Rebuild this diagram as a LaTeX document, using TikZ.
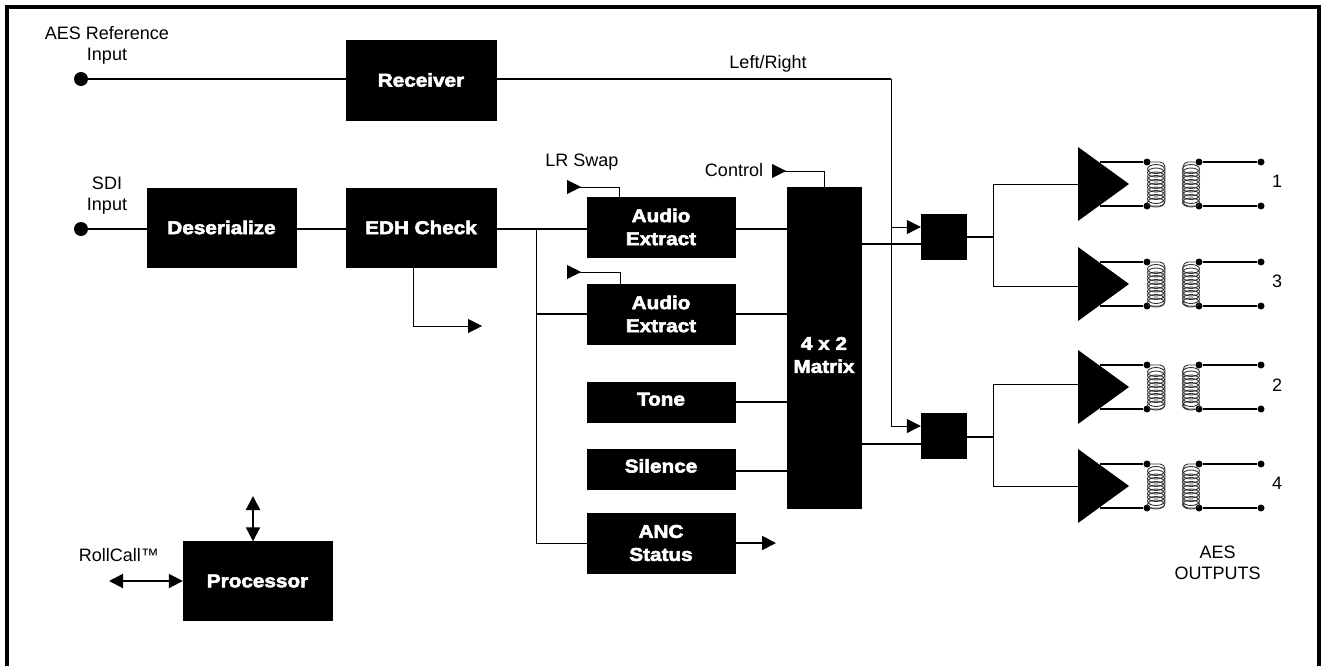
\documentclass[tikz,border=0pt]{standalone}
\usepackage{fontspec}
\usepackage{tikz}
\setmainfont{Liberation Sans}
\newfontfamily\boxfont[FakeBold=3,FakeStretch=1.12]{Liberation Sans Bold}
\usetikzlibrary{arrows.meta}
\tikzset{
  blockbox/.style 2 args={fill=black,draw=black,inner sep=0pt,text=white,align=center,
    minimum width=#1pt,minimum height=#2pt,font=\boxfont\fontsize{18.5}{23}\selectfont},
  lifted/.style={text height=14pt,text depth=7pt},
  lbl/.style={inner sep=0pt,align=center,font=\fontsize{18}{21}\selectfont},
  wire/.style={line width=1.8pt},
  thinwire/.style={line width=1pt},
  dotnode/.style={circle,fill=black,inner sep=0pt,minimum size=7pt},
  bigdot/.style={circle,fill=black,inner sep=0pt,minimum size=14pt},
  arr/.style={-{Triangle[length=14pt,width=14pt]}},
  arrin/.style={-{Triangle[length=14pt,width=14pt,reversed]}},
  biarr/.style={{Triangle[length=14pt,width=14pt]}-{Triangle[length=14pt,width=14pt]},line width=2pt},
  coilwire/.style={line width=0.9pt,black!80}
}
\newcommand{\ampstage}[2]{%
  \fill (1078,#2-37) -- (1129,#2) -- (1078,#2+37) -- cycle;
  \node[dotnode] (#1p) at (1147,#2-22) {};
  \node[dotnode] (#1q) at (1147,#2+22) {};
  \node[dotnode] (#1r) at (1199,#2-22) {};
  \node[dotnode] (#1s) at (1199,#2+22) {};
  \node[dotnode] (#1t) at (1261,#2-22) {};
  \node[dotnode] (#1u) at (1261,#2+22) {};
  \draw[wire] (1100,#2-22) -- (#1p);
  \draw[wire] (1100,#2+22) -- (#1q);
  \draw[wire] (#1r) -- (#1t);
  \draw[wire] (#1s) -- (#1u);
  \foreach \k in {-15,-7.5,0,7.5,15} {
    \draw[coilwire] (1156,#2+\k) ellipse (8.5 and 4.5);
    \draw[coilwire] (1156,#2+\k+3.5) ellipse (8.5 and 4.5);
    \draw[coilwire] (1191,#2+\k) ellipse (8.5 and 4.5);
    \draw[coilwire] (1191,#2+\k+3.5) ellipse (8.5 and 4.5);
  }
  \draw[coilwire] (#1p) -- (1160,#2-22) to[out=0,in=90] (1165,#2-17) -- (1165,#2+17) to[out=-90,in=0] (1160,#2+22) -- (#1q);
  \draw[coilwire] (#1r) -- (1188,#2-22) to[out=180,in=90] (1183,#2-17) -- (1183,#2+17) to[out=-90,in=180] (1188,#2+22) -- (#1s);
}
\begin{document}
\begin{tikzpicture}[x=1pt,y=-1pt]
  \useasboundingbox (0,0) rectangle (1324,666);
  \draw[line width=4pt] (7,672) -- (7,7) -- (1319,7) -- (1319,672);

  \node[bigdot] (aesin) at (81,79) {};
  \node[bigdot] (sdiin) at (81,229) {};
  \node[lbl] (aeslbl) at (107,45.5) {AES Reference\\Input};
  \node[lbl] (sdilbl) at (107,196) {SDI\\Input};

  \node[blockbox={150}{80}] (receiver) at (421,80) {Receiver};
  \node[blockbox={149}{79}] (deser) at (221.5,227.5) {Deserialize};
  \node[blockbox={150}{79}] (edh) at (421,227.5) {EDH Check};
  \node[blockbox={148}{60}] (ext1) at (661,227) {Audio\\Extract};
  \node[blockbox={148}{60}] (ext2) at (661,314) {Audio\\Extract};
  \node[blockbox={148}{40},lifted] (tone) at (661,402) {Tone};
  \node[blockbox={148}{40},lifted] (silence) at (661,469) {Silence};
  \node[blockbox={148}{60}] (anc) at (661,543) {ANC\\Status};
  \node[blockbox={74}{321}] (matrix) at (824,347.5) {};
  \node[blockbox={74}{50}] (matrixlbl) at (824,355) {4 x 2\\Matrix};
  \node[blockbox={149}{79}] (proc) at (257.5,581) {Processor};
  \node[blockbox={45}{45}] (sw1) at (943.5,236.5) {};
  \node[blockbox={45}{45}] (sw2) at (943.5,435.5) {};

  \draw[wire] (aesin) -- (aesin-|receiver.west);
  \draw[wire] (sdiin) -- (sdiin-|deser.west);
  \draw[wire] (deser.east|-sdiin) -- (edh.west|-sdiin);
  \draw[wire] (edh.east|-sdiin) -- (ext1.west|-sdiin);
  \draw[wire] (ext1.east|-sdiin) -- (matrix.west|-sdiin);
  \draw[wire] (ext2) -- (ext2-|matrix.west);
  \draw[wire] (tone) -- (tone-|matrix.west);
  \coordinate (silout) at (736,471);
  \draw[wire] (silout) -- (silout-|matrix.west);

  % tap lines off the EDH output
  \coordinate (tap) at (536,229);
  \draw[thinwire] (tap) |- (anc);
  \draw[wire] (tap|-ext2) -- (ext2);

  % swap and control inputs
  \coordinate (swapa) at (567,187);
  \coordinate (swapb) at (567,272);
  \coordinate (ctrl) at (772,171);
  \draw[thinwire,arrin] (619,197) |- (swapa);
  \draw[thinwire,arrin] (620,284) |- (swapb);
  \draw[thinwire,arrin] (matrix.north) |- (ctrl);
  \node[lbl] (swaplbl) at (582,162) {LR Swap};
  \node[lbl] (ctrllbl) at (734,170) {Control};

  % edh output
  \coordinate (edhout) at (482,326);
  \draw[thinwire,arr] (413,267) |- (edhout);

  % anc output
  \coordinate (ancout) at (776,543);
  \draw[wire,arr] (anc) -- (ancout);

  % left/right path
  \node[lbl] (lrlbl) at (768,64) {Left/Right};
  \coordinate (lrturn) at (891,79);
  \coordinate (lrtap) at (891,227);
  \draw[wire] (lrturn-|receiver.east) -- (lrturn);
  \draw[thinwire,arr] (lrturn) |- (sw1.west|-lrtap);
  \coordinate (lrlow) at (891,426);
  \draw[thinwire,arr] (lrtap) |- (sw2.west|-lrlow);
  \coordinate (mat1) at (861,244);
  \coordinate (mat2) at (861,444);
  \draw[wire] (mat1) -- (sw1.west|-mat1);
  \draw[wire] (mat2) -- (sw2.west|-mat2);

  % output stages
  \ampstage{a1}{184}
  \ampstage{a3}{284}
  \ampstage{a2}{387}
  \ampstage{a4}{486}
  \node[lbl] (n1) at (1277,181) {1};
  \node[lbl] (n3) at (1277,281) {3};
  \node[lbl] (n2) at (1277,385) {2};
  \node[lbl] (n4) at (1277,483) {4};
  \node[lbl] (aesout) at (1217.5,563) {AES\\OUTPUTS};

  \coordinate (trunk1) at (993,237);
  \coordinate (trunk2) at (993,437);
  \coordinate (a1in) at (1078,184);
  \coordinate (a3in) at (1078,286);
  \coordinate (a2in) at (1078,384);
  \coordinate (a4in) at (1078,486);
  \draw[wire] (sw1.east|-trunk1) -- (trunk1);
  \draw[wire] (sw2.east|-trunk2) -- (trunk2);
  \draw[thinwire] (a1in) -| (trunk1) |- (a3in);
  \draw[thinwire] (a2in) -| (trunk2) |- (a4in);

  % processor
  \node[lbl] (rolllbl) at (119,555) {RollCall™};
  \coordinate (rollend) at (109,581);
  \coordinate (busend) at (253,496);
  \draw[biarr] (rollend) -- (proc.west);
  \draw[biarr] (busend) -- (busend|-proc.north);
\end{tikzpicture}
\end{document}
